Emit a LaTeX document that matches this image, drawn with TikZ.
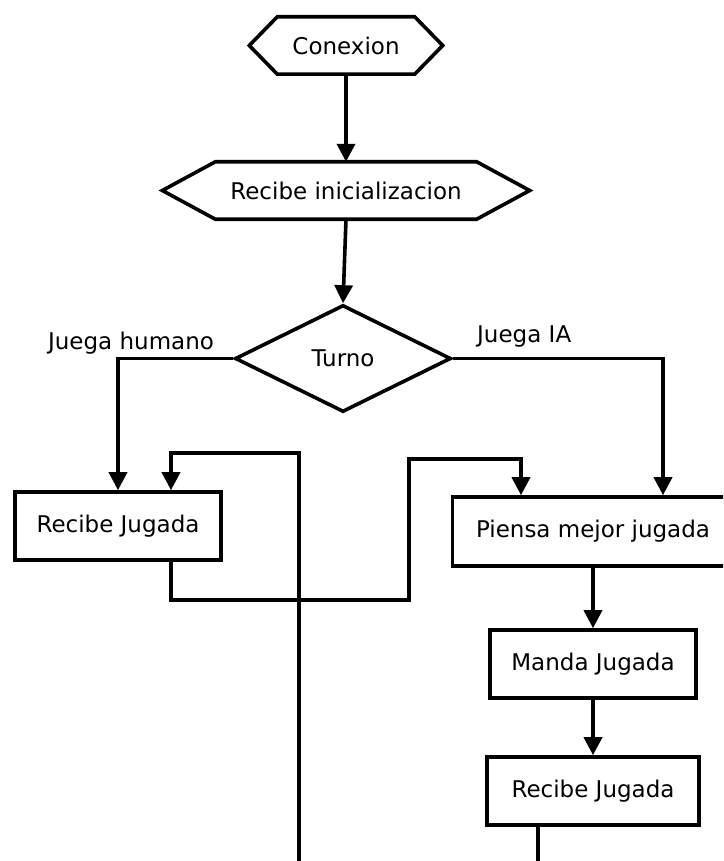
\documentclass[tikz,border=0pt]{standalone}
\usepackage{fontspec}
\setmainfont{DejaVu Sans}
\usetikzlibrary{arrows.meta,shapes.geometric,calc}

\tikzset{
  line/.style={line width=3.6pt, line join=miter},
  arr/.style={line, -{Triangle[length=18pt,width=18pt]}},
  box/.style={draw, line width=3.6pt, rectangle, inner sep=0pt},
  hexbody/.style={rectangle, inner sep=0pt, minimum height=57pt},
  decision/.style={draw, line width=3.6pt, diamond, inner sep=0pt,
                   minimum width=216pt, minimum height=107pt},
  lbl/.style={inner sep=0pt},
}

\begin{document}
\begin{tikzpicture}[x=1pt, y=-1pt, font=\fontsize{23}{27}\selectfont]
  \clip (0,0) rectangle (723,861);
  \fill[white] (0,0) rectangle (723,861);

  % start / input terminals (hexagons)
  \node[hexbody, minimum width=137pt] (con) at (346,45.5) {Conexion};
  \draw[line] (con.north west) -- (con.north east) -- ($(con.east)+(28,0)$)
     -- (con.south east) -- (con.south west) -- ($(con.west)+(-28,0)$) -- cycle;

  \node[hexbody, minimum width=261pt] (ini) at (346,190.5) {Recibe inicializacion};
  \draw[line] (ini.north west) -- (ini.north east) -- ($(ini.east)+(53,0)$)
     -- (ini.south east) -- (ini.south west) -- ($(ini.west)+(-53,0)$) -- cycle;

  % turn decision
  \node[decision] (turno) at (343,358.5) {Turno};

  % process boxes
  \node[box, minimum width=206pt, minimum height=68pt] (rh) at (118,526) {Recibe Jugada};
  \node[box, minimum width=281pt, minimum height=69pt] (pm) at (593,531.5) {Piensa mejor jugada};
  \node[box, minimum width=206pt, minimum height=68pt] (mj) at (593,664) {Manda Jugada};
  \node[box, minimum width=212pt, minimum height=68pt] (rj) at (593,791) {Recibe Jugada};

  % branch labels
  \node[lbl, anchor=base] (lhum) at (131,349) {Juega humano};
  \node[lbl, anchor=base west] (lia) at (477,342) {Juega IA};

  % loose ends and bends of the loops
  \coordinate (loopbot) at (299,861);
  \coordinate (looptop) at (299,453);
  \coordinate (midlow) at (409,600);
  \coordinate (midhigh) at (409,459);
  \coordinate (outbot) at (538,861);

  % connectors
  \draw[arr] (con.south) -- (ini.north);
  \draw[arr] (ini.south) -- (turno.north);
  \draw[arr] (turno.west) -| (rh.north);
  \draw[arr] (turno.east) -| ([xshift=70pt]pm.north);
  \draw[arr] (loopbot) -- (looptop) -| ([xshift=53pt]rh.north);
  \draw[arr] ([xshift=53pt]rh.south) |- (midlow) -- (midhigh) -| ([xshift=-72pt]pm.north);
  \draw[arr] (pm.south) -- (mj.north);
  \draw[arr] (mj.south) -- (rj.north);
  \draw[line] ([xshift=-55pt]rj.south) -- (outbot);
\end{tikzpicture}
\end{document}
